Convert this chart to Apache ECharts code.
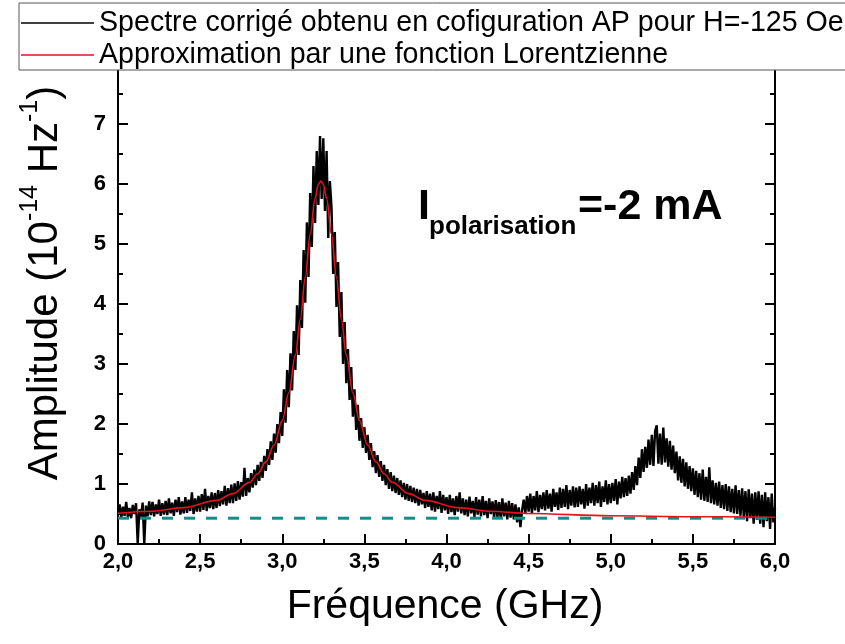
<!DOCTYPE html>
<html>
<head>
<meta charset="utf-8">
<script src="https://cdn.jsdelivr.net/npm/echarts@6/dist/echarts.min.js"></script>
<style>
  html, body { margin: 0; padding: 0; background: #fff; }
  #chart { width: 845px; height: 644px; }
</style>
</head>
<body>
<div id="chart"></div>
<script>
// Measured spectrum, sampled every 10 MHz from 2.00 to 6.00 GHz (units: 1e-14 Hz^-1)
const freqStart = 2.0;
const freqStep = 0.01;
const spectrumAmp = [
  0.50,0.66,0.44,0.62,0.47,0.70,0.45,0.60,0.43,0.65,
  0.50,0.68,0.00,0.58,0.45,0.69,0.00,0.64,0.46,0.71,
  0.48,0.70,0.46,0.66,0.50,0.74,0.47,0.68,0.49,0.72,
  0.48,0.76,0.51,0.69,0.47,0.74,0.53,0.78,0.49,0.71,
  0.51,0.78,0.52,0.74,0.55,0.86,0.50,0.76,0.54,0.80,
  0.54,0.83,0.57,0.92,0.55,0.80,0.60,0.86,0.58,0.85,
  0.60,0.90,0.63,0.88,0.66,0.97,0.64,0.93,0.68,0.99,
  0.68,1.01,0.72,1.05,0.74,1.03,0.79,1.27,0.80,1.10,
  0.86,1.18,0.94,1.24,0.98,1.32,1.05,1.37,1.10,1.47,
  1.22,1.58,1.32,1.71,1.40,1.84,1.52,2.00,1.68,2.20,
  1.80,2.58,2.02,2.90,2.28,3.18,2.56,3.55,2.90,3.98,
  3.15,4.40,3.60,4.90,4.02,5.36,4.45,5.85,4.95,6.30,
  5.35,6.55,5.65,6.80,5.75,6.76,5.55,6.55,5.10,6.05,
  5.60,4.50,5.20,3.95,4.70,3.45,4.20,3.00,3.70,2.68,
  3.25,2.40,2.95,2.12,2.58,1.90,2.32,1.72,2.10,1.60,
  1.95,1.52,1.82,1.40,1.68,1.28,1.55,1.18,1.48,1.12,
  1.38,1.05,1.32,0.98,1.25,0.92,1.20,0.88,1.14,0.85,
  1.10,0.82,1.06,0.78,1.02,0.74,1.00,0.72,0.97,0.70,
  0.94,0.68,0.92,0.64,0.90,0.66,0.85,0.60,0.88,0.62,
  0.84,0.56,0.86,0.54,0.80,0.58,0.88,0.52,0.82,0.56,
  0.78,0.50,0.82,0.53,0.76,0.48,0.80,0.54,0.86,0.51,
  0.76,0.48,0.74,0.46,0.79,0.51,0.72,0.45,0.78,0.49,
  0.74,0.46,0.80,0.48,0.72,0.43,0.76,0.50,0.71,0.44,
  0.73,0.45,0.70,0.42,0.76,0.46,0.69,0.41,0.72,0.44,
  0.68,0.41,0.66,0.36,0.61,0.28,0.56,0.74,0.51,0.80,
  0.54,0.84,0.51,0.80,0.56,0.88,0.53,0.82,0.58,0.86,
  0.56,0.90,0.59,0.84,0.54,0.92,0.62,0.86,0.57,0.94,
  0.60,0.92,0.62,0.98,0.58,0.90,0.64,0.96,0.61,0.94,
  0.62,0.96,0.66,0.92,0.59,1.00,0.64,0.94,0.68,1.02,
  0.64,0.98,0.68,1.04,0.62,0.96,0.70,1.06,0.66,1.00,
  0.68,1.02,0.72,1.08,0.66,1.04,0.76,1.12,0.78,1.10,
  0.80,1.14,0.84,1.20,0.90,1.30,0.98,1.44,1.10,1.58,
  1.20,1.62,1.27,1.74,1.32,1.82,1.30,1.88,1.98,1.34,
  1.84,1.32,1.94,1.36,1.76,1.29,1.72,1.24,1.64,1.18,
  1.54,1.06,1.46,1.02,1.42,0.96,1.36,0.92,1.30,0.88,
  1.26,0.82,1.22,0.78,1.18,0.74,1.24,0.72,1.12,0.70,
  1.28,0.68,1.06,0.66,1.02,0.64,1.04,0.60,0.98,0.58,
  1.00,0.55,0.96,0.53,0.92,0.51,0.98,0.50,0.90,0.47,
  0.93,0.45,0.88,0.38,0.91,0.43,0.84,0.34,0.86,0.40,
  0.88,0.34,0.82,0.28,0.86,0.38,0.78,0.25,0.84,0.36,
  0.60
];

// Lorentzian fit curve, tabulated
const fitFreq = [2.00,2.20,2.40,2.60,2.70,2.80,2.85,2.90,2.95,3.00,3.04,3.08,3.11,3.14,3.17,3.20,3.22,3.235,3.25,3.27,
                 3.30,3.33,3.36,3.39,3.43,3.47,3.52,3.57,3.62,3.67,3.77,3.87,4.07,4.27,4.50,5.00,5.50,6.00];
const fitAmp  = [0.512,0.546,0.606,0.727,0.840,1.027,1.171,1.369,1.649,2.057,2.520,3.149,3.749,4.444,5.161,5.760,5.994,6.050,5.994,5.760,
                 5.161,4.444,3.749,3.149,2.520,2.057,1.649,1.369,1.171,1.027,0.840,0.727,0.606,0.546,0.508,0.470,0.455,0.447];

// Background level (dashed line)
const baselineFreq = [2.0, 6.0];
const baselineLevel = 0.43;

// Axis ranges and tick steps
const xRange = [2.0, 6.0], xStep = 0.5;
const yRange = [0, 8], yStep = 1;

const seriesNames = [
  'Spectre corrigé obtenu en cofiguration AP pour H=-125 Oe',
  'Approximation par une fonction Lorentzienne'
];

const FONT = 'Liberation Sans, Arial, Helvetica, sans-serif';

const spectrumData = spectrumAmp.map((v, i) => [+(freqStart + i * freqStep).toFixed(2), v]);
const fitData = fitFreq.map((f, i) => [f, fitAmp[i]]);
const baselineData = baselineFreq.map(f => [f, baselineLevel]);

const chart = echarts.init(document.getElementById('chart'), null, { renderer: 'canvas' });

const axisLine = { show: true, onZero: false, lineStyle: { color: '#000', width: 2 } };
const tick = { show: true, inside: true, length: 10, lineStyle: { color: '#000', width: 2 } };
const minor = { show: true, splitNumber: 2, length: 5, lineStyle: { color: '#000', width: 2 } };

chart.setOption({
  animation: false,
  backgroundColor: '#fff',
  grid: { left: 118, right: 70, top: 64, bottom: 100, containLabel: false },
  legend: {
    data: seriesNames,
    orient: 'vertical',
    left: 19,
    top: 3,
    padding: [5, 12, 0, 2],
    itemGap: 2,
    itemWidth: 73,
    itemHeight: 1.5,
    icon: 'rect',
    selectedMode: false,
    backgroundColor: '#fff',
    borderColor: '#555',
    borderWidth: 1,
    borderRadius: 0,
    textStyle: { fontFamily: FONT, fontSize: 28.6, color: '#000', lineHeight: 30 },
    z: 10
  },
  xAxis: [
    {
      type: 'value', min: xRange[0], max: xRange[1], interval: xStep, position: 'bottom',
      axisLine, axisTick: tick, minorTick: minor, splitLine: { show: false },
      axisLabel: {
        margin: 7, color: '#000', fontFamily: FONT, fontSize: 22, fontWeight: 'bold',
        formatter: v => v.toFixed(1).replace('.', ',')
      }
    },
    {
      type: 'value', min: xRange[0], max: xRange[1], interval: xStep, position: 'top',
      axisLine, axisTick: { show: false }, minorTick: { show: false }, splitLine: { show: false },
      axisLabel: { show: false }
    }
  ],
  yAxis: [
    {
      type: 'value', min: yRange[0], max: yRange[1], interval: yStep, position: 'left',
      axisLine, axisTick: tick, minorTick: minor, splitLine: { show: false },
      axisLabel: { margin: 12, color: '#000', fontFamily: FONT, fontSize: 22, fontWeight: 'bold' }
    },
    {
      type: 'value', min: yRange[0], max: yRange[1], interval: yStep, position: 'right',
      axisLine, axisTick: tick, minorTick: minor, splitLine: { show: false },
      axisLabel: { show: false }
    }
  ],
  series: [
    {
      name: seriesNames[0], type: 'line', data: spectrumData,
      showSymbol: false, symbol: 'none', color: '#000',
      lineStyle: { color: '#000', width: 2.4, join: 'bevel' }, z: 2, silent: true
    },
    {
      name: 'baseline', type: 'line', data: baselineData,
      showSymbol: false, symbol: 'none', color: '#178a8a',
      lineStyle: { color: '#178a8a', width: 3, type: [11, 11] }, z: 3, silent: true
    },
    {
      name: seriesNames[1], type: 'line', data: fitData,
      showSymbol: false, symbol: 'none', smooth: 0.35, smoothMonotone: 'x', color: '#e3121b',
      lineStyle: { color: '#e3121b', width: 1.6 }, z: 4, silent: true
    }
  ],
  graphic: [
    {
      type: 'text', x: 42, y: 283, rotation: Math.PI / 2,
      style: {
        text: '{m|Amplitude (10}{s|-14}{m| Hz}{s|-1}{m|)}',
        align: 'center', verticalAlign: 'middle', fill: '#000',
        rich: {
          m: { fontFamily: FONT, fontSize: 42, fill: '#000', verticalAlign: 'bottom', lineHeight: 48 },
          s: { fontFamily: FONT, fontSize: 25, fill: '#000', verticalAlign: 'top', lineHeight: 30 }
        }
      }
    },
    {
      type: 'text', x: 445, y: 607,
      style: {
        text: 'Fréquence (GHz)', fontFamily: FONT, fontSize: 41, fill: '#000',
        align: 'center', verticalAlign: 'middle'
      }
    },
    {
      type: 'text', x: 418, y: 207,
      style: { text: 'I', fontFamily: FONT, fontSize: 43, fontWeight: 'bold', fill: '#000', align: 'left', verticalAlign: 'middle' }
    },
    {
      type: 'text', x: 429, y: 227,
      style: { text: 'polarisation', fontFamily: FONT, fontSize: 26, fontWeight: 'bold', fill: '#000', align: 'left', verticalAlign: 'middle' }
    },
    {
      type: 'text', x: 578, y: 207,
      style: { text: '=-2 mA', fontFamily: FONT, fontSize: 43, fontWeight: 'bold', fill: '#000', align: 'left', verticalAlign: 'middle' }
    }
  ]
});
</script>
</body>
</html>
